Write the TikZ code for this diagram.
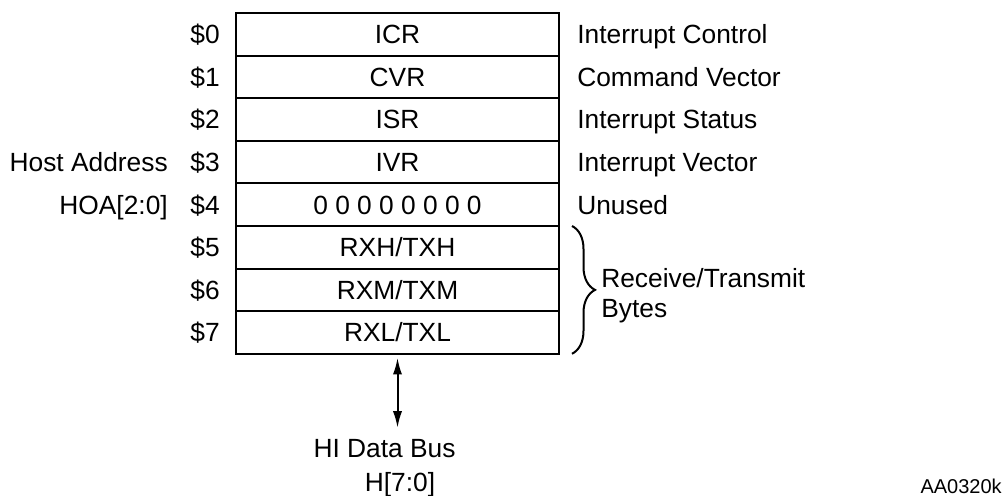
\documentclass[tikz,border=0pt]{standalone}
\usepackage{fontspec}
\setmainfont{Liberation Sans}
\usetikzlibrary{positioning,calc,arrows.meta,decorations.pathreplacing}

\tikzset{
  reg/.style={draw, line width=1.2pt, outer sep=0pt, minimum width=193.8pt, minimum height=25.56pt, inner sep=0pt, text height=11.3pt, text depth=0pt, font=\fontsize{15.8}{19}\selectfont},
  lbl/.style={inner sep=0pt, text height=11.3pt, text depth=0pt, font=\fontsize{15.8}{19}\selectfont},
  busarrow/.style={{Latex[length=10pt,width=5.5pt]}-{Latex[length=10pt,width=5.5pt]}, line width=1.2pt},
  brc/.style={decorate, decoration={brace, amplitude=13.8pt}, line width=1.2pt}
}

\begin{document}
\begin{tikzpicture}[x=0.6pt,y=-0.6pt]
		\useasboundingbox (0,0) rectangle (1006,496);
		
		% register stack, top to bottom
		\node[reg] (r0) at (397.5,34.3) {ICR}; % $0
		\node[reg, below=0pt of r0] (r1) {CVR}; % $1
		\node[reg, below=0pt of r1] (r2) {ISR}; % $2
		\node[reg, below=0pt of r2] (r3) {IVR}; % $3
		\node[reg, below=0pt of r3] (r4) {0 0 0 0 0 0 0 0}; % $4
		\node[reg, below=0pt of r4] (r5) {RXH/TXH}; % $5
		\node[reg, below=0pt of r5] (r6) {RXM/TXM}; % $6
		\node[reg, below=0pt of r6] (r7) {RXL/TXL}; % $7
		
		% addresses
		\node[lbl, left=9.6pt of r0] (a0) {\$0};
		\node[lbl, left=9.6pt of r1] (a1) {\$1};
		\node[lbl, left=9.6pt of r2] (a2) {\$2};
		\node[lbl, left=9.6pt of r3] (a3) {\$3};
		\node[lbl, left=9.6pt of r4] (a4) {\$4};
		\node[lbl, left=9.6pt of r5] (a5) {\$5};
		\node[lbl, left=9.6pt of r6] (a6) {\$6};
		\node[lbl, left=9.6pt of r7] (a7) {\$7};
		
		\node[lbl, left=13.2pt of a3] (host) {Host Address};
		\node[lbl, left=13.2pt of a4] (hoa) {HOA[2:0]};
		
		% register names
		\node[lbl, right=10.8pt of r0] (d0) {Interrupt Control};
		\node[lbl, right=10.8pt of r1] (d1) {Command Vector};
		\node[lbl, right=10.8pt of r2] (d2) {Interrupt Status};
		\node[lbl, right=10.8pt of r3] (d3) {Interrupt Vector};
		\node[lbl, right=10.8pt of r4] (d4) {Unused};
		
		% brace over the data bytes
		\coordinate (btop) at ($(r5.north east)+(13,0)$);
		\coordinate (bbot) at ($(r7.south east)+(13,0)$);
		\draw[brc] (btop) -- (bbot);
		\node[lbl, anchor=base west] (rx) at (601,287) {Receive/Transmit};
		\node[lbl, anchor=base west] (by) at (601,317) {Bytes};
		
		% data bus
		\node[lbl, anchor=base] (bus) at (384.5,457) {HI Data Bus};
		\node[lbl, anchor=base] (busw) at (400,491) {H[7:0]};
		\draw[busarrow, shorten <=2.4pt, shorten >=6pt] (r7.south) -- (r7.south |- bus.north);
		
		\node[inner sep=0pt, anchor=base east, font=\fontsize{12}{14}\selectfont] (code) at (1002,493) {AA0320k};
		
\end{tikzpicture}
\end{document}
